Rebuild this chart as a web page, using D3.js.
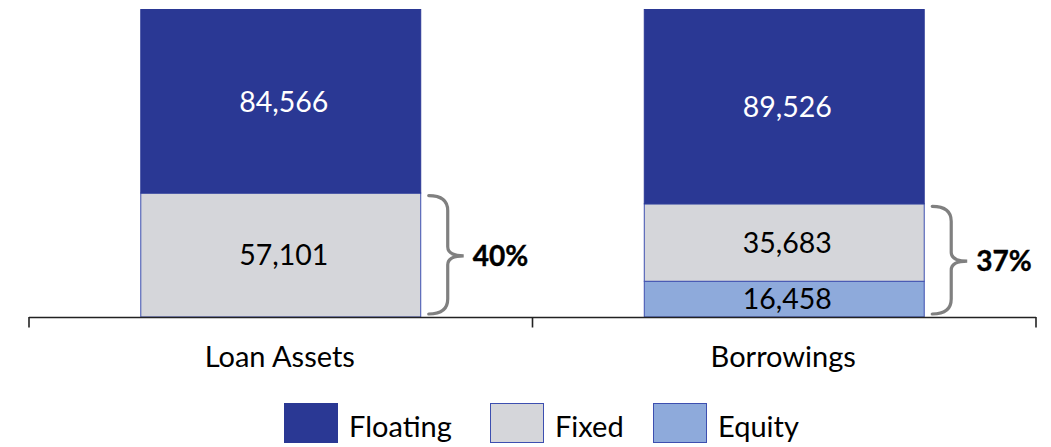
<!DOCTYPE html>
<html>
<head>
<meta charset="utf-8">
<script src="https://cdn.jsdelivr.net/npm/d3@7"></script>
<style>
  html, body { margin: 0; padding: 0; background: #ffffff; }
  svg { display: block; }
  text { font-family: Lato, "Open Sans", sans-serif; }
</style>
</head>
<body>
<svg id="chart" width="1051" height="447"></svg>
<script>
// Balance-sheet mix: loan assets vs. borrowings, stacked by rate type
const categories = ["Loan Assets", "Borrowings"];
const seriesNames = ["Equity", "Fixed", "Floating"];   // stacked bottom to top
const equityValues = [0, 16458];
const fixedValues = [57101, 35683];
const floatingValues = [84566, 89526];
const legendNames = ["Floating", "Fixed", "Equity"];

const colors = {
  Floating: "#2a3894",
  Fixed: "#d5d6da",
  Equity: "#8eaadb"
};
const edgeColor = "#3d4fb0";

const rows = categories.map((c, i) => ({
  category: c,
  Equity: equityValues[i],
  Fixed: fixedValues[i],
  Floating: floatingValues[i]
}));

const svg = d3.select("#chart");
const axisLeft = 29, axisRight = 1036;
const baseY = 317, topY = 9.5;

const x = d3.scaleBand().domain(categories).range([axisLeft, axisRight]).padding(0);
const barWidth = x.bandwidth() * 0.556;
const totals = rows.map(r => seriesNames.reduce((s, k) => s + r[k], 0));
const y = d3.scaleLinear().domain([0, d3.max(totals)]).range([baseY, topY]);

const stack = d3.stack().keys(seriesNames)(rows);
const fmt = d3.format(",");

const barX = c => x(c) + (x.bandwidth() - barWidth) / 2;

// stacked segments
const layers = svg.append("g").selectAll("g")
  .data(stack).join("g")
  .attr("fill", d => colors[d.key]);

layers.selectAll("rect")
  .data(d => d.map(v => ({ key: d.key, v })).filter(o => o.v[1] - o.v[0] > 0))
  .join("rect")
  .attr("x", o => barX(o.v.data.category))
  .attr("width", barWidth)
  .attr("y", o => y(o.v[1]))
  .attr("height", o => y(o.v[0]) - y(o.v[1]))
  .attr("stroke", o => o.key === "Floating" ? colors.Floating : edgeColor)
  .attr("stroke-width", 1);

// segment value labels
layers.selectAll("text")
  .data(d => d.map(v => ({ key: d.key, v })).filter(o => o.v[1] - o.v[0] > 0))
  .join("text")
  .attr("x", o => barX(o.v.data.category) + barWidth / 2 + 3)
  .attr("y", o => (y(o.v[0]) + y(o.v[1])) / 2)
  .attr("dy", "0.36em")
  .attr("text-anchor", "middle")
  .attr("font-size", 28.5)
  .attr("fill", o => o.key === "Floating" ? "#ffffff" : "#000000")
  .text(o => fmt(o.v[1] - o.v[0]));

// category axis: baseline with tick marks at band boundaries
const axisG = svg.append("g");
axisG.append("line")
  .attr("x1", axisLeft).attr("x2", axisRight)
  .attr("y1", baseY + 0.5).attr("y2", baseY + 0.5)
  .attr("stroke", "#222").attr("stroke-width", 1.6);
const tickXs = categories.map(c => x(c)).concat([x(categories[categories.length - 1]) + x.bandwidth()]);
axisG.selectAll("line.tick").data(tickXs).join("line")
  .attr("class", "tick")
  .attr("x1", d => d).attr("x2", d => d)
  .attr("y1", baseY).attr("y2", baseY + 10.5)
  .attr("stroke", "#222").attr("stroke-width", 1.6);
axisG.selectAll("text").data(categories).join("text")
  .attr("x", c => x(c) + x.bandwidth() / 2 - 1)
  .attr("y", 367)
  .attr("text-anchor", "middle")
  .attr("font-size", 29)
  .attr("fill", "#000")
  .text(c => c);

// braces marking the non-floating share of each bar
const braceG = svg.append("g");
rows.forEach((r, i) => {
  const nonFloat = r.Equity + r.Fixed;
  const share = nonFloat / totals[i];
  const x0 = barX(r.category) + barWidth + 8;
  const xs = x0 + 19;
  const xt = xs + 16;
  const yT = y(nonFloat) + 2.5;
  const yB = baseY - 3;
  const mid = (yT + yB) / 2 + 1;
  const rr = 15, r2 = 9;
  const p = d3.path();
  p.moveTo(x0, yT);
  p.quadraticCurveTo(xs, yT, xs, yT + rr);
  p.lineTo(xs, mid - r2);
  p.quadraticCurveTo(xs, mid, xt, mid);
  p.quadraticCurveTo(xs, mid, xs, mid + r2);
  p.lineTo(xs, yB - rr);
  p.quadraticCurveTo(xs, yB, x0, yB);
  braceG.append("path")
    .attr("d", p.toString())
    .attr("fill", "none")
    .attr("stroke", "#808080")
    .attr("stroke-width", 3.2)
    .attr("stroke-linecap", "round");
  braceG.append("text")
    .attr("x", xt + 9)
    .attr("y", mid)
    .attr("dy", "0.36em")
    .attr("font-size", 28)
    .attr("font-weight", "bold")
    .attr("fill", "#000")
    .attr("stroke", "#000")
    .attr("stroke-width", 0.4)
    .text(d3.format(".0%")(share));
});

// legend
const legend = svg.append("g");
const legendX = [284, 490, 653];
legendNames.forEach((name, i) => {
  const lx = legendX[i];
  legend.append("rect")
    .attr("x", lx + 0.5).attr("y", 403.5)
    .attr("width", 53).attr("height", 39)
    .attr("fill", colors[name])
    .attr("stroke", name === "Floating" ? colors.Floating : edgeColor)
    .attr("stroke-width", 1);
  legend.append("text")
    .attr("x", lx + 65)
    .attr("y", 437)
    .attr("font-size", 29)
    .attr("fill", "#000")
    .text(name);
});
</script>
</body>
</html>
